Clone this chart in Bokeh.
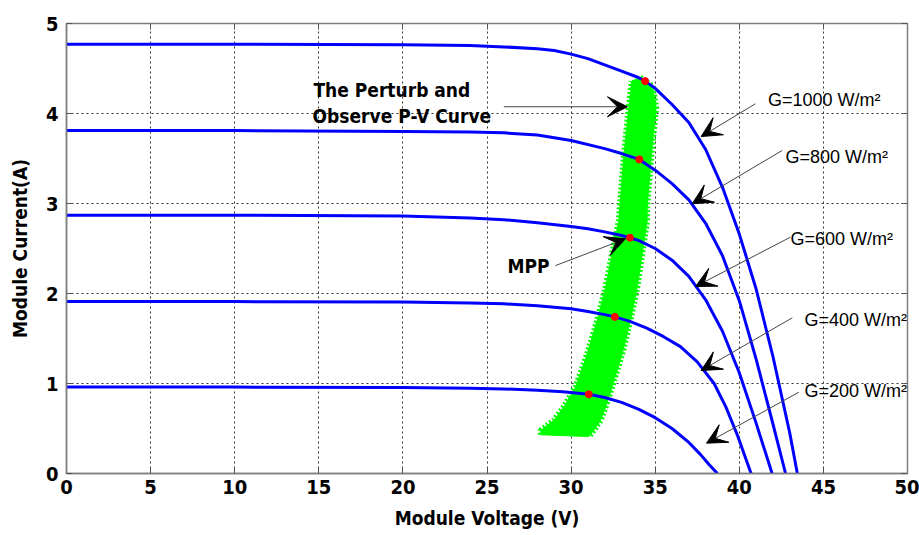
from bokeh.plotting import figure
from bokeh.models import Range1d, LinearAxis, FixedTicker, Label, Arrow, VeeHead
from bokeh.embed import file_html
from bokeh.resources import INLINE

# ---- axis ticks -------------------------------------------------------
x_ticks = [0, 5, 10, 15, 20, 25, 30, 35, 40, 45, 50]
y_ticks = [0, 1, 2, 3, 4, 5]

# ---- I-V curves (module voltage V, module current A) per irradiance ----
v_1000 = [0, 10, 20, 24, 26, 28, 29, 30, 31, 32, 33, 34, 34.4, 35, 36, 37, 38, 39, 40, 41, 42, 43, 43.45]
i_1000 = [4.77, 4.77, 4.765, 4.755, 4.74, 4.72, 4.70, 4.66, 4.61, 4.54, 4.47, 4.40, 4.36, 4.28, 4.10, 3.90, 3.60, 3.18, 2.66, 2.05, 1.30, 0.45, 0.0]

v_800 = [0, 10, 20, 24, 26, 28, 30, 32, 33, 34.05, 35, 36, 37, 38, 39, 40, 41, 42, 42.75]
i_800 = [3.81, 3.81, 3.80, 3.795, 3.785, 3.76, 3.70, 3.61, 3.555, 3.49, 3.37, 3.22, 3.04, 2.78, 2.42, 1.92, 1.27, 0.55, 0.0]

v_600 = [0, 10, 20, 24, 26, 28, 30, 31, 32, 33, 33.5, 34, 35, 36, 37, 38, 39, 40, 41, 41.95]
i_600 = [2.87, 2.87, 2.86, 2.84, 2.82, 2.785, 2.745, 2.72, 2.685, 2.645, 2.62, 2.59, 2.50, 2.37, 2.19, 1.93, 1.58, 1.12, 0.56, 0.0]

v_400 = [0, 10, 20, 24, 26, 28, 30, 31, 32, 32.6, 33.5, 34.5, 35.5, 36.5, 37.5, 38.5, 39.2, 39.9, 40.7]
i_400 = [1.91, 1.91, 1.905, 1.895, 1.885, 1.865, 1.83, 1.80, 1.765, 1.74, 1.69, 1.615, 1.52, 1.41, 1.24, 1.0, 0.74, 0.42, 0.0]

v_200 = [0, 10, 20, 24, 26, 28, 29.5, 31.05, 32, 33, 34, 35, 36, 37, 37.7, 38.2, 38.7]
i_200 = [0.96, 0.96, 0.955, 0.948, 0.94, 0.925, 0.908, 0.88, 0.845, 0.79, 0.715, 0.62, 0.50, 0.345, 0.21, 0.10, 0.0]

# ---- maximum power points reached by the tracker -----------------------
mpp_v = [34.4, 34.05, 33.5, 32.6, 31.05]
mpp_i = [4.36, 3.49, 2.62, 1.74, 0.88]

# ---- perturb & observe trajectory envelope (left edge up, right edge down)
band_left_v = [28.2, 28.2, 28.97, 29.57, 30.26, 30.96, 31.55, 32.05, 32.44, 32.84, 32.9, 33.13, 33.43, 33.6]
band_left_i = [0.43, 0.48, 0.59, 0.74, 0.96, 1.33, 1.70, 2.07, 2.44, 2.81, 2.96, 3.51, 4.07, 4.36]
band_right_v = [34.1, 34.85, 35.05, 34.76, 34.52, 34.52, 34.23, 33.93, 33.53, 33.04, 32.44, 32.05, 31.75, 31.35, 31.05]
band_right_i = [4.40, 4.30, 4.07, 3.51, 2.96, 2.81, 2.44, 2.07, 1.70, 1.33, 0.96, 0.74, 0.59, 0.48, 0.41]

BOLD_FONT = "DejaVu Sans Condensed, DejaVu Sans, sans-serif"
TEXT_FONT = "Liberation Sans, Arial, sans-serif"
BLUE = "#0000ff"
GREEN = "#00ff00"

p = figure(width=919, height=535, output_backend="svg", toolbar_location=None,
           x_range=Range1d(0, 50), y_range=Range1d(0, 5),
           min_border_left=66, min_border_right=12, min_border_top=23, min_border_bottom=62)
p.background_fill_color = "white"
p.border_fill_color = "white"
p.outline_line_color = "#7f7f7f"
p.outline_line_width = 1.5

# axes with inward ticks on all four sides
for ax, ticks in ((p.xaxis[0], x_ticks), (p.yaxis[0], y_ticks)):
    ax.ticker = FixedTicker(ticks=ticks)
    ax.major_tick_in = 6
    ax.major_tick_out = 0
    ax.minor_tick_line_color = None
    ax.axis_line_color = "#7f7f7f"
    ax.axis_line_width = 1.5
    ax.major_tick_line_color = "#555555"
    ax.major_label_text_font = BOLD_FONT
    ax.major_label_text_font_style = "bold"
    ax.major_label_text_font_size = "20px"
    ax.major_label_text_color = "black"
    ax.axis_label_text_font = BOLD_FONT
    ax.axis_label_text_font_style = "bold"
    ax.axis_label_text_font_size = "19px"
    ax.axis_label_text_color = "black"

p.xaxis.axis_label = "Module Voltage (V)"
p.yaxis.axis_label = "Module Current(A)"
p.xaxis.major_label_standoff = 6
p.xaxis.axis_label_standoff = 10
p.yaxis.major_label_standoff = 8
p.yaxis.axis_label_standoff = 12

top_ax = LinearAxis(ticker=FixedTicker(ticks=x_ticks), major_tick_in=6, major_tick_out=0,
                    minor_tick_line_color=None, major_label_text_font_size="0px",
                    axis_line_color="#7f7f7f", major_tick_line_color="#555555")
right_ax = LinearAxis(ticker=FixedTicker(ticks=y_ticks), major_tick_in=6, major_tick_out=0,
                      minor_tick_line_color=None, major_label_text_font_size="0px",
                      axis_line_color="#7f7f7f", major_tick_line_color="#555555")
p.add_layout(top_ax, "above")
p.add_layout(right_ax, "right")

p.xgrid[0].ticker = FixedTicker(ticks=x_ticks)
p.ygrid[0].ticker = FixedTicker(ticks=y_ticks)
for g in (p.xgrid[0], p.ygrid[0]):
    g.grid_line_color = "#333333"
    g.grid_line_dash = "2 3"
    g.grid_line_width = 1

# P&O operating-point band with serrated edges
band_v = band_left_v + band_right_v
band_i = band_left_i + band_right_i
p.patch(band_v, band_i, fill_color=GREEN, line_color=GREEN, line_width=1)
p.line(band_left_v, band_left_i, line_color=GREEN, line_width=6, line_dash="2 2")
p.line(band_right_v, band_right_i, line_color=GREEN, line_width=6, line_dash="2 2")

# I-V characteristics
for vv, ii in ((v_1000, i_1000), (v_800, i_800), (v_600, i_600), (v_400, i_400), (v_200, i_200)):
    p.line(vv, ii, line_color=BLUE, line_width=3, line_join="round")

p.scatter(mpp_v, mpp_i, size=7, fill_color="#ff0000", line_color="#ff0000")

# annotations
def arrow(x0, y0, x1, y1):
    p.add_layout(Arrow(x_start=x0, y_start=y0, x_end=x1, y_end=y1,
                       line_color="#444444", line_width=1,
                       end=VeeHead(size=20, fill_color="black", line_color="black", line_width=1)))

arrow(26.0, 4.075, 33.35, 4.075)
arrow(29.07, 2.31, 33.23, 2.607)
arrow(40.96, 4.108, 37.73, 3.744)
arrow(42.55, 3.589, 37.2, 2.997)
arrow(43.04, 2.626, 37.4, 2.078)
arrow(43.15, 1.73, 37.73, 1.144)
arrow(43.54, 0.903, 38.05, 0.337)

def label(x, y, txt, size, font, bold=False):
    p.add_layout(Label(x=x, y=y, text=txt, text_font=font, text_font_size=size,
                       text_font_style="bold" if bold else "normal",
                       text_color="black", text_baseline="alphabetic", text_align="left"))

label(14.68, 4.256, "The Perturb and", "19px", BOLD_FONT, True)
label(14.63, 3.97, "Observe P-V Curve", "19px", BOLD_FONT, True)
label(26.22, 2.311, "MPP", "19px", BOLD_FONT, True)

label(41.7, 4.15, "G=1000 W/m²", "18px", TEXT_FONT)
label(42.75, 3.52, "G=800 W/m²", "18px", TEXT_FONT)
label(43.04, 2.61, "G=600 W/m²", "18px", TEXT_FONT)
label(43.88, 1.71, "G=400 W/m²", "18px", TEXT_FONT)
label(43.88, 0.915, "G=200 W/m²", "18px", TEXT_FONT)

open("out.html", "w").write(file_html(p, INLINE))
